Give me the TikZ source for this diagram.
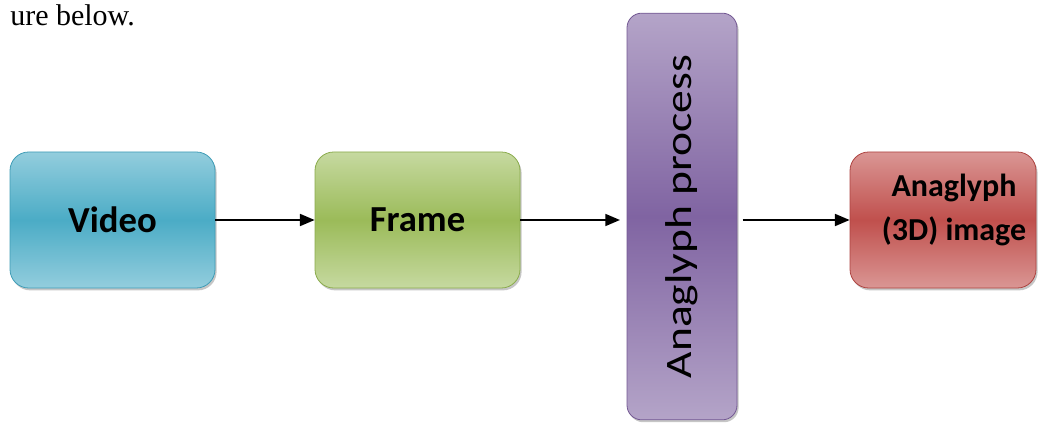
\documentclass[tikz,border=0pt]{standalone}
\usepackage{fontspec}
\setmainfont{Liberation Serif}
\newfontfamily\boxfont{Carlito}
\usepackage{xcolor}
\usepackage{tikz}
\usetikzlibrary{arrows, arrows.meta}
\usetikzlibrary{positioning}
\usetikzlibrary{shadows}

\definecolor{vidLight}{HTML}{93CDDD}
\definecolor{vidDark}{HTML}{4BACC6}
\definecolor{vidLine}{HTML}{3F9CB6}
\definecolor{frmLight}{HTML}{C6D9A0}
\definecolor{frmDark}{HTML}{9BBB59}
\definecolor{frmLine}{HTML}{8AAB4C}
\definecolor{proLight}{HTML}{B4A4C8}
\definecolor{proDark}{HTML}{8064A2}
\definecolor{proLine}{HTML}{735893}
\definecolor{resLight}{HTML}{DA9694}
\definecolor{resDark}{HTML}{C0504D}
\definecolor{resLine}{HTML}{AD4340}

\tikzset{
  stage/.style={rectangle, rounded corners=14pt, draw=#1Line, line width=0.6pt,
    top color=#1Light, bottom color=#1Light, middle color=#1Dark,
    drop shadow={shadow xshift=1.2pt, shadow yshift=-1.8pt, opacity=0.45},
    minimum width=153.75pt, minimum height=102pt, inner sep=0pt,
    align=center, font=\boxfont\bfseries},
  flow/.style={-{Triangle[length=11pt, width=9pt]}, line width=1.3pt}
}

\begin{document}
\begin{tikzpicture}[x=0.75pt, y=-0.75pt]
			\useasboundingbox (0,0) rectangle (1046,424);

			\node[anchor=base west, font=\fontsize{22.5}{26}\selectfont, inner sep=0pt](caption) at (10,26){ure below.};

			\node[stage=vid, font=\boxfont\bfseries\fontsize{27.5}{30}\selectfont](video) at (112.5,220){Video};
			\node[stage=frm, font=\boxfont\bfseries\fontsize{27.5}{30}\selectfont](frame) at (417.5,220){Frame};
			\node[stage=pro, rounded corners=11pt, minimum width=82.5pt, minimum height=305pt](process) at (682,216.5){};
			\node[rotate=90, font=\boxfont\fontsize{28}{30}\selectfont, xscale=1.22, inner sep=0pt](proclabel) at (process.center){Anaglyph process};
			\node[stage=res, minimum width=139.5pt](result) at (943,220){};
			\node[align=center, inner sep=0pt, font=\boxfont\bfseries\fontsize{24}{33}\selectfont](reslabel) at (954,210){Anaglyph\\(3D) image};

			\foreach \iFrom/\iTo/\iPre/\iPost in {video/frame/0/0, frame/process/0/5, process/result/4/0}
			{
				\draw[flow, shorten <=\iPre pt, shorten >=\iPost pt] (\iFrom.east |- video.east) -- (\iTo.west |- video.east);
			}
		\end{tikzpicture}
\end{document}
